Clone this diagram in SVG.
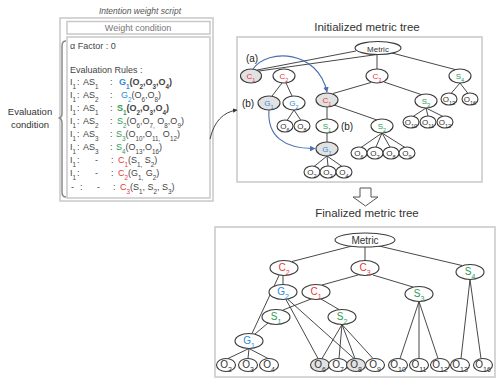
<svg xmlns="http://www.w3.org/2000/svg" width="497" height="379" viewBox="0 0 497 379">
<defs>
  <marker id="ahBlue" viewBox="0 0 10 10" refX="9" refY="5" markerWidth="5" markerHeight="5" orient="auto">
    <path d="M0,0 L10,5 L0,10 z" fill="#4a70b0"/>
  </marker>
  <marker id="ahDark" viewBox="0 0 10 10" refX="9" refY="5" markerWidth="5" markerHeight="5" orient="auto">
    <path d="M0,0 L10,5 L0,10 z" fill="#333"/>
  </marker>
</defs>
<style>
  text{font-family:"Liberation Sans",Arial,sans-serif}
  .panel{fill:#fff;stroke:#c8c8c8;stroke-width:1.5}
  .n{fill:#fff;stroke:#3a3a3a;stroke-width:1.1}
  .gy{fill:#e2e2e2}
  .e{stroke:#333;stroke-width:0.9;fill:none}
  .curve{stroke:#4a70b0;stroke-width:1.1;fill:none}
  .l1{font-size:8px;text-anchor:middle;fill:#333}
  .l2{font-size:10px;text-anchor:middle;fill:#333}
  .sb{font-size:70%;baseline-shift:sub}
  .cr{fill:#e8363a}
  .cb{fill:#2b8be0}
  .cg{fill:#2e9a55}
  .rule{font-size:9px;fill:#444}
  .bold{font-weight:bold}
  .title{font-size:11.5px;fill:#333;text-anchor:middle}
  .tag{font-size:10px;fill:#222;text-anchor:middle}
</style>

<!-- left: intention weight script -->
<g id="script">
  <text x="140" y="14" font-size="8.5" font-style="italic" fill="#555" text-anchor="middle">Intention weight script</text>
  <rect class="panel" x="60" y="18" width="153" height="183"/>
  <rect class="panel" x="67" y="21.5" width="143" height="12.5"/>
  <text x="138" y="31" font-size="9" fill="#777" text-anchor="middle">Weight condition</text>
  <rect class="panel" x="67" y="37" width="143" height="161"/>
  <text class="rule" x="70" y="49">α Factor : 0</text>
  <text class="rule" x="70" y="73">Evaluation Rules :</text>

  <text class="rule" x="70" y="85">I<tspan class="sb">1</tspan></text>
  <text class="rule" x="77" y="85">:</text>
  <text class="rule" x="83" y="85">AS<tspan class="sb">1</tspan></text>
  <text class="rule" x="110" y="85">:</text>
  <text class="rule bold" x="119" y="85"><tspan class="cb">G<tspan class="sb">1</tspan></tspan>(O<tspan class="sb">2</tspan>,O<tspan class="sb">3</tspan>,O<tspan class="sb">4</tspan>)</text>

  <text class="rule" x="70" y="98">I<tspan class="sb">1</tspan></text>
  <text class="rule" x="77" y="98">:</text>
  <text class="rule" x="83" y="98">AS<tspan class="sb">2</tspan></text>
  <text class="rule" x="110" y="98">:</text>
  <text class="rule" x="121" y="98"><tspan class="cb">G<tspan class="sb">2</tspan></tspan>(O<tspan class="sb">6</tspan>,O<tspan class="sb">8</tspan>)</text>

  <text class="rule" x="70" y="111">I<tspan class="sb">1</tspan></text>
  <text class="rule" x="77" y="111">:</text>
  <text class="rule" x="83" y="111">AS<tspan class="sb">1</tspan></text>
  <text class="rule" x="110" y="111">:</text>
  <text class="rule bold" x="117" y="111"><tspan class="cg">S<tspan class="sb">1</tspan></tspan>(O<tspan class="sb">2</tspan>,O<tspan class="sb">3</tspan>,O<tspan class="sb">4</tspan>)</text>

  <text class="rule" x="70" y="124">I<tspan class="sb">1</tspan></text>
  <text class="rule" x="77" y="124">:</text>
  <text class="rule" x="83" y="124">AS<tspan class="sb">2</tspan></text>
  <text class="rule" x="110" y="124">:</text>
  <text class="rule" x="117" y="124"><tspan class="cg">S<tspan class="sb">2</tspan></tspan>(O<tspan class="sb">6</tspan>,O<tspan class="sb">7,</tspan> O<tspan class="sb">8</tspan>,O<tspan class="sb">9</tspan>)</text>

  <text class="rule" x="70" y="137">I<tspan class="sb">1</tspan></text>
  <text class="rule" x="77" y="137">:</text>
  <text class="rule" x="83" y="137">AS<tspan class="sb">3</tspan></text>
  <text class="rule" x="110" y="137">:</text>
  <text class="rule" x="116" y="137"><tspan class="cg">S<tspan class="sb">3</tspan></tspan>(O<tspan class="sb">10</tspan>,O<tspan class="sb">11,</tspan> O<tspan class="sb">12</tspan>)</text>

  <text class="rule" x="70" y="150">I<tspan class="sb">1</tspan></text>
  <text class="rule" x="77" y="150">:</text>
  <text class="rule" x="83" y="150">AS<tspan class="sb">3</tspan></text>
  <text class="rule" x="110" y="150">:</text>
  <text class="rule" x="116" y="150"><tspan class="cg">S<tspan class="sb">4</tspan></tspan>(O<tspan class="sb">13</tspan>,O<tspan class="sb">16</tspan>)</text>

  <text class="rule" x="70" y="163">I<tspan class="sb">1</tspan></text>
  <text class="rule" x="77" y="163">:</text>
  <text class="rule" x="95" y="163">-</text>
  <text class="rule" x="111" y="163">:</text>
  <text class="rule" x="118" y="163"><tspan class="cr">C<tspan class="sb">1</tspan></tspan>(S<tspan class="sb">1,</tspan> S<tspan class="sb">2</tspan>)</text>

  <text class="rule" x="70" y="176">I<tspan class="sb">1</tspan></text>
  <text class="rule" x="77" y="176">:</text>
  <text class="rule" x="95" y="176">-</text>
  <text class="rule" x="111" y="176">:</text>
  <text class="rule" x="118" y="176"><tspan class="cr">C<tspan class="sb">2</tspan></tspan>(G<tspan class="sb">1,</tspan> G<tspan class="sb">2</tspan>)</text>

  <text class="rule" x="71" y="190">-</text>
  <text class="rule" x="80" y="190">:</text>
  <text class="rule" x="97" y="190">-</text>
  <text class="rule" x="113" y="190">:</text>
  <text class="rule" x="120" y="190"><tspan class="cr">C<tspan class="sb">3</tspan></tspan>(S<tspan class="sb">1</tspan>, S<tspan class="sb">2</tspan>, S<tspan class="sb">3</tspan>)</text>
</g>

<!-- evaluation condition brace and label -->
<g id="evaluation-condition">
  <path d="M66,41 Q62,41 62,46 L62,113 Q62,118 58.5,118 Q62,118 62,123 L62,192 Q62,197 66,197" fill="none" stroke="#8a8a8a" stroke-width="1.5"/>
  <text x="30" y="115" font-size="9.5" fill="#333" text-anchor="middle">Evaluation</text>
  <text x="30" y="128" font-size="9.5" fill="#333" text-anchor="middle">condition</text>
</g>

<!-- panels and titles -->
<g id="initialized-panel">
  <text class="title" x="367" y="31">Initialized metric tree</text>
  <rect class="panel" x="237" y="37" width="245" height="145"/>
</g>
<g id="refine-arrow">
  <polygon points="360,188 371,188 371,197 378,197 365.5,206 353,197 360,197" fill="#fff" stroke="#555" stroke-width="1"/>
</g>
<g id="finalized-panel">
  <text class="title" x="367" y="217">Finalized metric tree</text>
  <rect class="panel" x="215" y="227" width="280" height="150"/>
</g>

<!-- connectors -->
<g id="connectors">
  <path class="e" d="M210,139 Q216,113 237,110" marker-end="url(#ahDark)"/>

  <!-- initialized tree -->
  <path class="e" d="M356,51 L257,70 M377,54.5 L259,71"/>
  <path class="e" d="M377,54.5 L377,69 M392,53 L455,69.5"/>
  <path class="e" d="M282,83 L272,96 M286,83 L292,96"/>
  <path class="e" d="M371,82.5 L333,93.5 M384,82 L421,94.5"/>
  <path class="e" d="M294,110 L287,120.5 M294,110 L301,120.5"/>
  <path class="e" d="M327,107 L327,119 M334,105 L377,120"/>
  <path class="e" d="M327,133 L327,142"/>
  <path class="e" d="M327,156 L314,166.5 M327,156 L328,166 M327,156 L342,166.5"/>
  <path class="e" d="M382,133 L361,147.5 M382,133 L376,147 M382,133 L390,147 M382,133 L405,147.5"/>
  <path class="e" d="M426,108 L413,116.5 M426,108 L428,116 M426,108 L443,116.5"/>
  <path class="e" d="M460,83 L451,93.5 M460,83 L468,93.5"/>
  <path class="curve" d="M253,69 C268,48 318,50 327,92" marker-end="url(#ahBlue)"/>
  <path class="curve" d="M269,110 C267,136 284,149 315,148.5" marker-end="url(#ahBlue)"/>

  <!-- finalized tree -->
  <path class="e" d="M352,246 L292,261.5 M365,247 L365,260.5 M379,246 L462,265.5"/>
  <path class="e" d="M283,275.5 L283,284.5 M279,275.5 L252,333.5"/>
  <path class="e" d="M358,275 L322,285 M373,275 L413,287"/>
  <path class="e" d="M311,299 L283,310 M321,299 L339,309.5"/>
  <path class="e" d="M286,299.5 L318,358.5 M288,299.5 L354,358.5"/>
  <path class="e" d="M268,323 L255,334"/>
  <path class="e" d="M342,324.5 L322,358.5 M342,324.5 L339,358.5 M342,324.5 L355,358.5 M342,324.5 L373,358.5"/>
  <path class="e" d="M419,301.5 L400,358.5 M419,301.5 L419,358.5 M419,301.5 L438,358.5"/>
  <path class="e" d="M470,279.5 L461,358.5 M470,279.5 L481,358.5"/>
  <path class="e" d="M249,348.5 L228,358.5 M249,348.5 L248,358.5 M249,348.5 L268,358.5"/>
</g>

<!-- initialized tree nodes -->
<g id="t-metric"><ellipse class="n" cx="378" cy="48" rx="23" ry="6.5"/><text class="l1" x="378" y="51.5" font-size="9.5">Metric</text></g>
<g id="t-c1a"><ellipse class="n gy" cx="251" cy="76" rx="10.5" ry="7"/><text class="l1 cr" x="251" y="78.5">C<tspan class="sb">1</tspan></text></g>
<g id="t-c2"><ellipse class="n" cx="284" cy="76" rx="11" ry="7"/><text class="l1 cr" x="284" y="78.5">C<tspan class="sb">2</tspan></text></g>
<g id="t-c3"><ellipse class="n" cx="377" cy="76" rx="11" ry="7"/><text class="l1 cr" x="377" y="78.5">C<tspan class="sb">3</tspan></text></g>
<g id="t-s4"><ellipse class="n" cx="460" cy="76" rx="11" ry="7"/><text class="l1 cg" x="460" y="78.5">S<tspan class="sb">4</tspan></text></g>
<g id="t-g1a"><ellipse class="n gy" cx="269" cy="103" rx="11" ry="7"/><text class="l1 cb" x="269" y="105.5">G<tspan class="sb">1</tspan></text></g>
<g id="t-g2"><ellipse class="n" cx="294" cy="103" rx="11" ry="7"/><text class="l1 cb" x="294" y="105.5">G<tspan class="sb">2</tspan></text></g>
<g id="t-c1b"><ellipse class="n gy" cx="327" cy="100" rx="11" ry="7"/><text class="l1 cr" x="327" y="102.5">C<tspan class="sb">1</tspan></text></g>
<g id="t-s3"><ellipse class="n" cx="426" cy="101" rx="11" ry="7"/><text class="l1 cg" x="426" y="103.5">S<tspan class="sb">3</tspan></text></g>
<g id="t-o13"><ellipse class="n" cx="449" cy="99" rx="8" ry="6"/><text class="l1" x="449" y="101.5">O<tspan class="sb">13</tspan></text></g>
<g id="t-o16"><ellipse class="n" cx="470" cy="99" rx="8" ry="6"/><text class="l1" x="470" y="101.5">O<tspan class="sb">16</tspan></text></g>
<g id="t-s1"><ellipse class="n" cx="327" cy="126" rx="11" ry="7"/><text class="l1 cg" x="327" y="128.5">S<tspan class="sb">1</tspan></text></g>
<g id="t-s2"><ellipse class="n" cx="382" cy="126" rx="11" ry="7"/><text class="l1 cg" x="382" y="128.5">S<tspan class="sb">2</tspan></text></g>
<g id="t-o6a"><ellipse class="n" cx="285" cy="126" rx="8" ry="6"/><text class="l1" x="285" y="128.5">O<tspan class="sb">6</tspan></text></g>
<g id="t-o8a"><ellipse class="n" cx="302" cy="126" rx="8" ry="6"/><text class="l1" x="302" y="128.5">O<tspan class="sb">8</tspan></text></g>
<g id="t-o10"><ellipse class="n" cx="411" cy="122" rx="8" ry="6"/><text class="l1" x="411" y="124.5">O<tspan class="sb">10</tspan></text></g>
<g id="t-o11"><ellipse class="n" cx="428" cy="122" rx="8" ry="6"/><text class="l1" x="428" y="124.5">O<tspan class="sb">11</tspan></text></g>
<g id="t-o12"><ellipse class="n" cx="445" cy="122" rx="8" ry="6"/><text class="l1" x="445" y="124.5">O<tspan class="sb">12</tspan></text></g>
<g id="t-g1b"><ellipse class="n gy" cx="327" cy="149" rx="11" ry="7"/><text class="l1 cb" x="327" y="151.5">G<tspan class="sb">1</tspan></text></g>
<g id="t-o2"><ellipse class="n" cx="312" cy="172" rx="8" ry="6"/><text class="l1" x="312" y="174.5">O<tspan class="sb">2</tspan></text></g>
<g id="t-o3"><ellipse class="n" cx="328" cy="172" rx="8" ry="6"/><text class="l1" x="328" y="174.5">O<tspan class="sb">3</tspan></text></g>
<g id="t-o4"><ellipse class="n" cx="344" cy="172" rx="8" ry="6"/><text class="l1" x="344" y="174.5">O<tspan class="sb">4</tspan></text></g>
<g id="t-o6"><ellipse class="n" cx="359" cy="153" rx="8" ry="6"/><text class="l1" x="359" y="155.5">O<tspan class="sb">6</tspan></text></g>
<g id="t-o7"><ellipse class="n" cx="375" cy="153" rx="8" ry="6"/><text class="l1" x="375" y="155.5">O<tspan class="sb">7</tspan></text></g>
<g id="t-o8"><ellipse class="n" cx="391" cy="153" rx="8" ry="6"/><text class="l1" x="391" y="155.5">O<tspan class="sb">8</tspan></text></g>
<g id="t-o9"><ellipse class="n" cx="407" cy="153" rx="8" ry="6"/><text class="l1" x="407" y="155.5">O<tspan class="sb">9</tspan></text></g>
<g id="t-tags">
  <text class="tag" x="252" y="62">(a)</text>
  <text class="tag" x="248" y="106.5">(b)</text>
  <text class="tag" x="347" y="129.5">(b)</text>
</g>

<!-- finalized tree nodes -->
<g id="b-metric"><ellipse class="n" cx="365" cy="240" rx="30" ry="7"/><text class="l2" x="365" y="244" font-size="11">Metric</text></g>
<g id="b-c2"><ellipse class="n" cx="284" cy="268" rx="14" ry="7.5"/><text class="l2 cr" x="284" y="271">C<tspan class="sb">2</tspan></text></g>
<g id="b-c3"><ellipse class="n" cx="365" cy="268" rx="14" ry="7.5"/><text class="l2 cr" x="365" y="271">C<tspan class="sb">3</tspan></text></g>
<g id="b-s4"><ellipse class="n" cx="470" cy="272" rx="14" ry="7.5"/><text class="l2 cg" x="470" y="275">S<tspan class="sb">4</tspan></text></g>
<g id="b-g2"><ellipse class="n" cx="283" cy="292" rx="14" ry="7.5"/><text class="l2 cb" x="283" y="295">G<tspan class="sb">2</tspan></text></g>
<g id="b-c1"><ellipse class="n" cx="316" cy="292" rx="14" ry="7.5"/><text class="l2 cr" x="316" y="295">C<tspan class="sb">1</tspan></text></g>
<g id="b-s3"><ellipse class="n" cx="419" cy="294" rx="14" ry="7.5"/><text class="l2 cg" x="419" y="297">S<tspan class="sb">3</tspan></text></g>
<g id="b-s1"><ellipse class="n" cx="276" cy="317" rx="14" ry="7.5"/><text class="l2 cg" x="276" y="320">S<tspan class="sb">1</tspan></text></g>
<g id="b-s2"><ellipse class="n" cx="342" cy="317" rx="14" ry="7.5"/><text class="l2 cg" x="342" y="320">S<tspan class="sb">2</tspan></text></g>
<g id="b-g1"><ellipse class="n" cx="249" cy="341" rx="14" ry="7.5"/><text class="l2 cb" x="249" y="344">G<tspan class="sb">1</tspan></text></g>
<g id="b-o2"><ellipse class="n" cx="226" cy="365" rx="9.5" ry="6.5"/><text class="l2" x="226" y="368">O<tspan class="sb">2</tspan></text></g>
<g id="b-o3"><ellipse class="n" cx="248" cy="365" rx="9.5" ry="6.5"/><text class="l2" x="248" y="368">O<tspan class="sb">3</tspan></text></g>
<g id="b-o4"><ellipse class="n" cx="269" cy="365" rx="9.5" ry="6.5"/><text class="l2" x="269" y="368">O<tspan class="sb">4</tspan></text></g>
<g id="b-o6"><ellipse class="n gy" cx="320" cy="365" rx="9.5" ry="6.5"/><text class="l2" x="320" y="368">O<tspan class="sb">6</tspan></text></g>
<g id="b-o7"><ellipse class="n" cx="338" cy="365" rx="9.5" ry="6.5"/><text class="l2" x="338" y="368">O<tspan class="sb">7</tspan></text></g>
<g id="b-o8"><ellipse class="n gy" cx="356" cy="365" rx="9.5" ry="6.5"/><text class="l2" x="356" y="368">O<tspan class="sb">8</tspan></text></g>
<g id="b-o9"><ellipse class="n" cx="375" cy="365" rx="9.5" ry="6.5"/><text class="l2" x="375" y="368">O<tspan class="sb">9</tspan></text></g>
<g id="b-o10"><ellipse class="n" cx="398" cy="365" rx="9.5" ry="6.5"/><text class="l2" x="398" y="368">O<tspan class="sb">10</tspan></text></g>
<g id="b-o11"><ellipse class="n" cx="419" cy="365" rx="9.5" ry="6.5"/><text class="l2" x="419" y="368">O<tspan class="sb">11</tspan></text></g>
<g id="b-o12"><ellipse class="n" cx="440" cy="365" rx="9.5" ry="6.5"/><text class="l2" x="440" y="368">O<tspan class="sb">12</tspan></text></g>
<g id="b-o13"><ellipse class="n" cx="460" cy="365" rx="9.5" ry="6.5"/><text class="l2" x="460" y="368">O<tspan class="sb">13</tspan></text></g>
<g id="b-o16"><ellipse class="n" cx="483" cy="365" rx="9.5" ry="6.5"/><text class="l2" x="483" y="368">O<tspan class="sb">16</tspan></text></g>
</svg>
